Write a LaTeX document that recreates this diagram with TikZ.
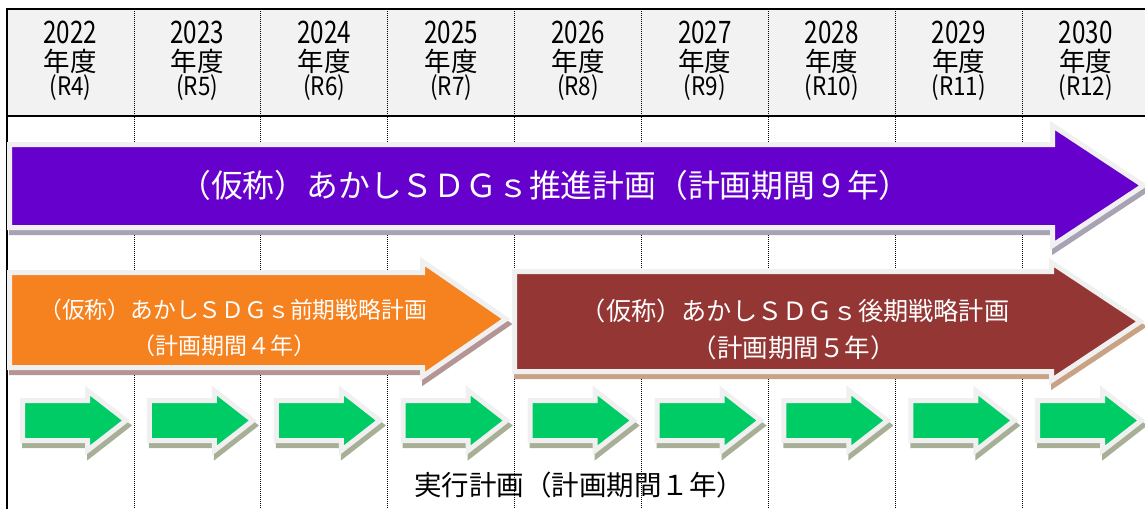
\documentclass[tikz,border=0pt]{standalone}
\usepackage{fontspec}
\setmainfont{Noto Sans CJK JP}
\newfontfamily\hnum[FakeStretch=0.78]{Noto Sans CJK JP}
\newfontfamily\rnum[FakeStretch=0.88]{Noto Sans CJK JP}
\definecolor{hdrgray}{HTML}{F2F2F2}
\definecolor{rimgray}{HTML}{F0F0F0}
\definecolor{purplefill}{HTML}{6600CC}
\definecolor{purpleshadow}{HTML}{A8A2B4}
\definecolor{orangefill}{HTML}{F5811F}
\definecolor{orangeshadow}{HTML}{B49494}
\definecolor{brownfill}{HTML}{943634}
\definecolor{brownshadow}{HTML}{C9A285}
\definecolor{greenfill}{HTML}{00CC66}
\definecolor{greenshadow}{HTML}{A7B097}
\tikzset{
  gridline/.style={black, line width=0.8pt, dash pattern=on 1pt off 1pt},
  frameline/.style={black, line width=2.5pt},
  yearlbl/.style={inner sep=0pt, text=black, font=\hnum\fontsize{31}{31}\selectfont},
  nendolbl/.style={inner sep=0pt, text=black, font=\fontsize{26.5}{26.5}\selectfont},
  reiwalbl/.style={inner sep=0pt, text=black, font=\rnum\fontsize{25.5}{25.5}\selectfont},
  whitelbl/.style={inner sep=0pt, text=white},
  blacklbl/.style={inner sep=0pt, text=black},
}
% x0 ytop ybot xneck yheadtop yheadbot xtip fill shadow
\newcommand\blockarrow[9]{%
  \path[fill=#9, draw=#9, line width=5pt, line join=miter, shift={(2,5)}]
    (#1,#2) -- (#4,#2) -- (#4,#5) -- (#7,{(#5+#6)/2}) -- (#4,#6) -- (#4,#3) -- (#1,#3) -- cycle;
  \path[fill=#8, draw=rimgray, line width=5pt, line join=miter]
    (#1,#2) -- (#4,#2) -- (#4,#5) -- (#7,{(#5+#6)/2}) -- (#4,#6) -- (#4,#3) -- (#1,#3) -- cycle;
}
\begin{document}
\begin{tikzpicture}[x=1pt,y=-1pt]
\useasboundingbox (0,0) rectangle (1145,509);
% header and grid
\fill[hdrgray] (7,9) rectangle (1145,116);
\foreach \i in {1,...,8} {
  \pgfmathsetmacro\gx{7+126.9*\i}
  \draw[gridline] (\gx,9) -- (\gx,509);
}
\draw[frameline] (1145,9) -- (7,9) -- (7,509);
\draw[black, line width=2pt] (7,116) -- (1145,116);
\foreach \i in {0,...,8} {
  \pgfmathtruncatemacro\yr{2022+\i}
  \pgfmathtruncatemacro\rr{4+\i}
  \pgfmathsetmacro\cx{70.4+126.9*\i}
  \node[yearlbl] (yr\i) at (\cx,32.5) {\yr};
  \node[nendolbl] (nd\i) at (\cx,61) {年度};
  \node[reiwalbl] (rw\i) at (\cx,87.5) {(R\rr)};
}
% purple 9-year arrow
\blockarrow{9.5}{144.5}{227.5}{1052.5}{125.5}{245.5}{1143.5}{purplefill}{purpleshadow}
\node[whitelbl, font=\fontsize{31.8}{31.8}\selectfont] (sdgs) at (545,185) {（仮称）あかしＳＤＧｓ推進計画（計画期間９年）};
% orange first-term arrow
\blockarrow{9.5}{272.5}{367.5}{422.5}{261.5}{376.5}{506}{orangefill}{orangeshadow}
\node[whitelbl, font=\fontsize{22.8}{22.8}\selectfont] (zenki1) at (233,310) {（仮称）あかしＳＤＧｓ前期戦略計画};
\node[whitelbl, font=\fontsize{23}{23}\selectfont] (zenki2) at (224,346) {（計画期間４年）};
% brown second-term arrow
\blockarrow{514.5}{271.5}{371.5}{1051.5}{262.5}{380.5}{1140.5}{brownfill}{brownshadow}
\node[whitelbl, font=\fontsize{25.2}{25.2}\selectfont] (kouki1) at (795,311) {（仮称）あかしＳＤＧｓ後期戦略計画};
\node[whitelbl, font=\fontsize{25.5}{25.5}\selectfont] (kouki2) at (793.5,348) {（計画期間５年）};
% green yearly arrows
\foreach \i in {0,...,8} {
  \pgfmathsetmacro\L{7+126.9*\i}
  \blockarrow{\L+15.5}{400.5}{440.5}{\L+80.5}{390.5}{450.5}{\L+119}{greenfill}{greenshadow}
}
\node[blacklbl, font=\fontsize{27.5}{27.5}\selectfont] (jikko) at (579,485) {実行計画（計画期間１年）};
\end{tikzpicture}
\end{document}
